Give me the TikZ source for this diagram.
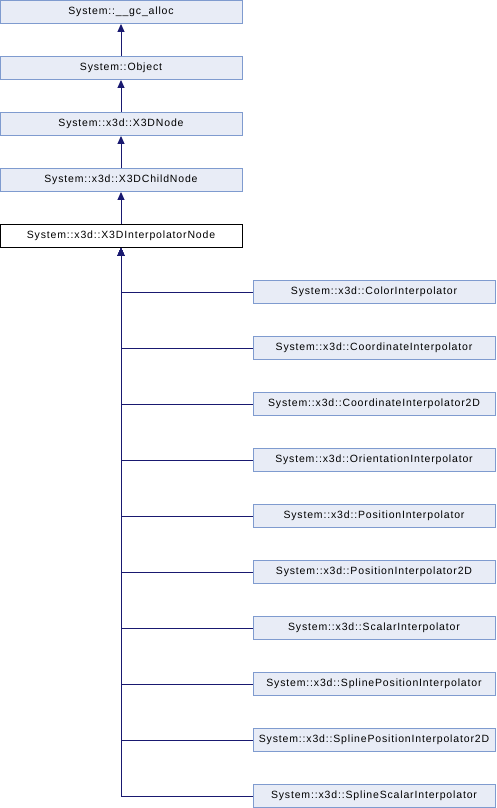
\documentclass[tikz,border=0pt]{standalone}
\usepackage{fontspec}
\setmainfont{Liberation Sans}[LetterSpace=8]
\usetikzlibrary{arrows.meta}
\definecolor{boxfill}{HTML}{E8ECF6}
\definecolor{boxline}{HTML}{7F9BCF}
\definecolor{edgeblue}{HTML}{191970}
\begin{document}
\begin{tikzpicture}[x=1pt,y=-1pt,
    cls/.style={draw=boxline,fill=boxfill,line width=0.9pt,minimum width=242pt,minimum height=23pt,inner sep=0pt,font=\fontsize{10.5}{12}\selectfont},
    cur/.style={cls,draw=black,fill=white},
    edge/.style={draw=edgeblue,line width=1pt,-{Triangle[length=8pt,width=7pt]}}]
    \useasboundingbox (0,0) rectangle (496,808);
    \node[cls] (gcalloc) at (121, 12) {System::\_\_gc\_alloc};
    \node[cls] (object) at (121, 68) {System::Object};
    \node[cls] (xnode) at (121, 124) {System::x3d::X3DNode};
    \node[cls] (childnode) at (121, 180) {System::x3d::X3DChildNode};
    \node[cur] (interp) at (121, 236) {System::x3d::X3DInterpolatorNode};
    \node[cls] (color) at (374, 292) {System::x3d::ColorInterpolator};
    \node[cls] (coord) at (374, 348) {System::x3d::CoordinateInterpolator};
    \node[cls] (coordtwo) at (374, 404) {System::x3d::CoordinateInterpolator2D};
    \node[cls] (orient) at (374, 460) {System::x3d::OrientationInterpolator};
    \node[cls] (pos) at (374, 516) {System::x3d::PositionInterpolator};
    \node[cls] (postwo) at (374, 572) {System::x3d::PositionInterpolator2D};
    \node[cls] (scalar) at (374, 628) {System::x3d::ScalarInterpolator};
    \node[cls] (spos) at (374, 684) {System::x3d::SplinePositionInterpolator};
    \node[cls] (spostwo) at (374, 740) {System::x3d::SplinePositionInterpolator2D};
    \node[cls] (sscalar) at (374, 796) {System::x3d::SplineScalarInterpolator};
    \draw[edge] (object) -- (gcalloc);
    \draw[edge] (xnode) -- (object);
    \draw[edge] (childnode) -- (xnode);
    \draw[edge] (interp) -- (childnode);
    \foreach \c in {color,coord,coordtwo,orient,pos,postwo,scalar,spos,spostwo,sscalar}
        \draw[edge] (\c.west) -| (interp.south);
\end{tikzpicture}
\end{document}
